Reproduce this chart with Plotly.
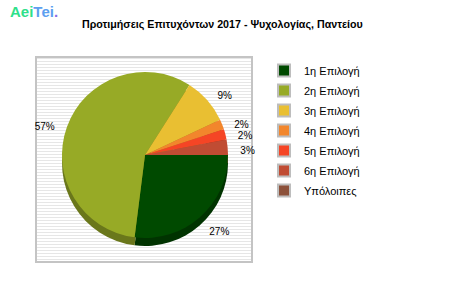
import plotly.graph_objects as go

# ---- data ----
labels = ["1η Επιλογή", "2η Επιλογή", "3η Επιλογή", "4η Επιλογή", "5η Επιλογή", "6η Επιλογή", "Υπόλοιπες"]
values = [27, 57, 9, 2, 2, 3, 0]
colors = ["#004a00", "#97aa26", "#e9bf32", "#f2862c", "#f54525", "#c04c33", "#8c513a"]
shadow_colors = ["#003300", "#6a771b", "#a58724", "#a95e1f", "#ac301a", "#873524", "#623928"]
title = "Προτιμήσεις Επιτυχόντων 2017 - Ψυχολογίας, Παντείου"

W, H = 450, 300
def px(x):
    return x / W
def py(y):
    return 1 - y / H

texts = [f"{v}%" if v > 0 else "" for v in values]
cx, cy, r = 145, 155, 83

fig = go.Figure()

# shadow pie
fig.add_trace(go.Pie(
    labels=labels, values=values, sort=False, direction="clockwise", rotation=90,
    marker=dict(colors=shadow_colors, line=dict(width=0)),
    textinfo="none", hoverinfo="skip", showlegend=False,
    domain=dict(x=[px(cx - r), px(cx + r)], y=[py(cy + 8 + r), py(cy + 8 - r)]),
))
# main pie
fig.add_trace(go.Pie(
    labels=labels, values=values, sort=False, direction="clockwise", rotation=90,
    marker=dict(colors=colors, line=dict(width=0)),
    textinfo="none", showlegend=False,
    domain=dict(x=[px(cx - r), px(cx + r)], y=[py(cy + r), py(cy - r)]),
))
# label ring (transparent, only carries the outside percent labels)
rt = 93
fig.add_trace(go.Pie(
    labels=labels, values=values, sort=False, direction="clockwise", rotation=90,
    marker=dict(colors=["rgba(0,0,0,0)"] * len(values), line=dict(width=0)),
    text=texts, textinfo="text", textposition="outside", hoverinfo="skip",
    outsidetextfont=dict(family="Liberation Sans, Arial", size=10, color="#000000"),
    showlegend=False,
    domain=dict(x=[px(cx - rt), px(cx + rt)], y=[py(cy + 4 + rt), py(cy + 4 - rt)]),
))

# legend entries
for lab, col in zip(labels, colors):
    fig.add_trace(go.Scatter(
        x=[None], y=[None], mode="markers", name=lab, legendgroup=lab,
        marker=dict(symbol="square", size=13, color=col, line=dict(color="#bdbdbd", width=2)),
        showlegend=True,
    ))

shapes = [dict(type="rect", xref="paper", yref="paper", x0=px(35), x1=px(253), y0=py(263), y1=py(56),
               fillcolor="#ffffff", line=dict(width=0), layer="below")]
y = 58.5
while y < 262:
    shapes.append(dict(type="line", xref="paper", yref="paper", x0=px(36), x1=px(252), y0=py(y), y1=py(y),
                       line=dict(color="#e6e6e6", width=1), layer="below"))
    y += 3
shapes.append(dict(type="rect", xref="paper", yref="paper", x0=px(36), x1=px(252), y0=py(262), y1=py(57),
                   fillcolor="rgba(0,0,0,0)", line=dict(color="#c4c4c4", width=2), layer="below"))

fig.update_layout(
    width=W, height=H, margin=dict(l=0, r=0, t=0, b=0),
    paper_bgcolor="#ffffff", plot_bgcolor="rgba(0,0,0,0)",
    xaxis=dict(visible=False, domain=[0.9, 1]), yaxis=dict(visible=False, domain=[0.9, 1]),
    shapes=shapes,
    legend=dict(x=px(264), y=py(56), xanchor="left", yanchor="top", itemwidth=30,
                font=dict(family="Liberation Sans, Arial", size=11, color="#000000"),
                bgcolor="rgba(0,0,0,0)", itemsizing="constant", tracegroupgap=1),
    annotations=[
        dict(text=f"<b>{title}</b>", x=px(222), y=py(16), xref="paper", yref="paper",
             showarrow=False, font=dict(family="Liberation Sans, Arial", size=10.7, color="#000000")),
        dict(text="<b><span style='color:#2ee08a'>Aei</span><span style='color:#5c9ff0'>Tei</span><span style='color:#8a6fe8'>.</span></b>",
             x=px(9), y=py(2), xref="paper", yref="paper", xanchor="left", yanchor="top", showarrow=False,
             borderpad=0, font=dict(family="Liberation Sans, Arial", size=15)),
    ],
)

fig.write_html("out.html")
